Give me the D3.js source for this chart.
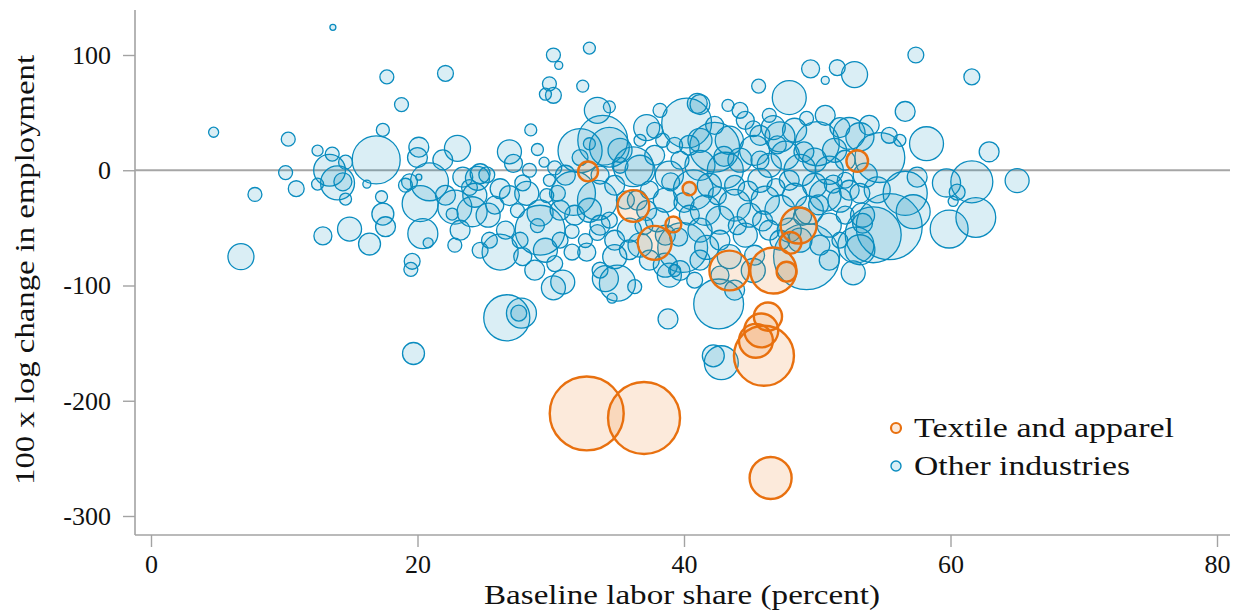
<!DOCTYPE html>
<html>
<head>
<meta charset="utf-8">
<script src="https://cdn.jsdelivr.net/npm/d3@7"></script>
<style>
  html, body { margin: 0; padding: 0; background: #fff; }
  svg { display: block; }
  svg text { font-family: "Liberation Serif", "Times New Roman", Times, serif !important; fill: #111; }
</style>
</head>
<body>
<svg id="chart" width="1240" height="614"></svg>
<script>
// Industry bubbles: [baseline labor share (%), 100 x log change in employment, employment weight]
const textileIndustries = [
  [32.8, -1, 11], [36.2, -31, 28], [37.8, -63, 32], [39.2, -47, 7], [40.4, -16, 5],
  [32.7, -211, 152], [37.0, -215, 144], [43.4, -87, 44], [46.7, -87, 59], [47.7, -88, 11],
  [48.6, -48, 36], [48.0, -63, 13], [53.0, 8, 13], [46.3, -127, 22], [45.8, -139, 32],
  [45.4, -148, 32], [46.0, -161, 100], [46.5, -267, 49]
];

const otherIndustries = [
  [13.65, 124, 1], [17.7, 81, 5.4], [18.8, 57, 5.4], [4.7, 33, 2.8], [10.3, 27, 5.4],
  [17.4, 35, 4.7], [12.5, 17, 3.4], [13.6, 14, 5.4], [14.6, 7, 5.4], [16.9, 9, 64],
  [13.4, 0, 28], [14.0, -11, 32], [14.4, -10, 9], [10.1, -2, 5.4], [10.9, -16, 7],
  [12.5, -12, 4], [16.2, -12, 1.8], [17.3, -23, 4], [19.1, -13, 5.4], [7.8, -21, 5.4],
  [20.1, 20, 11], [20.0, 11, 11], [20.1, -6, 1], [20.2, -29, 36], [14.6, -25, 4],
  [17.4, -38, 13.4], [17.6, -49, 11], [14.9, -51, 16], [12.9, -57, 9], [16.4, -64, 13.4],
  [6.75, -75, 18.8], [19.6, -79, 7], [19.5, -86, 5.4], [19.7, -159, 13.4], [20.4, -55, 25],
  [20.8, -63, 2.8], [20.9, -10, 40], [21.9, 9, 11], [22.1, 84, 7], [23.0, 19, 18.8],
  [23.4, -6, 11], [24.7, -3, 11], [25.2, -4, 7], [23.9, -15, 7], [19.4, -10, 7],
  [22.8, -32, 32], [24.1, -36, 25], [25.3, -39, 16], [22.6, -38, 4], [24.5, -7, 16],
  [26.2, -16, 11], [26.2, -71, 36], [27.9, -75, 9], [29.2, -52, 69], [29.2, -37, 18.8],
  [29.0, -48, 5.4], [28.2, -20, 16], [27.9, -11, 7], [26.9, -22, 11], [27.5, -35, 5.4],
  [29.7, -22, 5.4], [30.5, -20, 7], [31.7, -20, 54], [33.5, -26, 44], [31.6, -53, 5.4],
  [33.5, -54, 7], [32.6, -61, 5.4], [31.6, -71, 7], [32.7, -71, 9], [30.3, -81, 7],
  [30.9, -97, 16], [30.2, -102, 16], [34.1, -94, 18.8], [35.0, -98, 36], [36.3, -101, 5.4],
  [34.6, -111, 2.8], [34.8, -75, 16], [35.9, -69, 11], [38.9, -91, 16], [39.3, -87, 4],
  [38.8, -129, 11], [26.7, -128, 59], [27.8, -124, 25], [27.6, -124, 7], [37.2, -35, 11],
  [36.5, -26, 11], [38.0, -43, 16], [40.7, -17, 44], [39.9, -67, 69], [30.2, 100, 5.4],
  [30.6, 91, 1.8], [32.9, 106, 4], [29.9, 75, 5.4], [29.6, 66, 4], [30.2, 65, 7],
  [32.4, 73, 4], [33.5, 52, 18.8], [34.4, 55, 4], [28.5, 35, 4], [29.0, 18, 4],
  [29.5, 7, 2.8], [30.3, 2, 5.4], [26.9, 16, 16], [27.2, 6, 9], [32.2, 17, 54],
  [33.9, 26, 69], [34.4, 20, 44], [32.2, 11, 7], [32.9, 23, 4], [37.2, 37, 18.8],
  [38.4, 26, 5.4], [40.2, 41, 69], [41.0, 58, 11], [36.2, 3, 44], [45.6, 73, 5.4],
  [47.9, 63, 32], [49.5, 88, 9], [51.5, 89, 7], [50.6, 78, 1.8], [52.8, 83, 18.8],
  [57.4, 100, 7], [61.6, 81, 7], [56.6, 51, 11], [58.2, 23, 32], [62.9, 16, 11],
  [49.2, 45, 5.4], [41.2, 57, 11], [42.3, 20, 69], [45.2, 36, 7], [46.7, 37, 16],
  [47.2, 29, 25], [50.0, 23, 54], [51.7, 37, 11], [52.4, 32, 28], [53.2, 29, 22],
  [54.7, 11, 69], [57.5, -6, 11], [59.7, -11, 22], [61.6, -10, 49], [65.0, -9, 16],
  [60.5, -19, 7], [60.2, -27, 2.8], [61.9, -41, 44], [59.9, -51, 40], [57.2, -36, 32],
  [56.6, -20, 54], [55.4, -49, 121], [53.4, -46, 11], [54.5, -17, 18.8], [53.2, -69, 25],
  [52.7, -89, 16], [53.2, -20, 11], [54.2, -56, 87], [52.9, -65, 36], [53.4, -39, 16],
  [42.6, -116, 69], [42.8, -167, 32], [42.2, -161, 13.4], [49.2, -75, 121], [39.7, -87, 11],
  [45.2, -87, 16], [43.4, -75, 16], [41.7, -67, 16], [47.9, -52, 16],
  [35.2, 17.3, 16], [36.7, 0, 25], [37.8, 13, 11], [38.9, -4.3, 22], [34.8, -13, 11],
  [37.4, -17.3, 9], [38.6, -26, 16], [39.7, 8.7, 9], [41.2, 4.3, 25], [41.9, -13, 16],
  [43.1, 0, 36], [44.2, 8.7, 16], [45.3, 17.3, 25], [46.4, 4.3, 16], [47.6, 13, 22],
  [48.7, 0, 28], [49.8, 8.7, 16], [50.9, 0, 22], [52.1, 8.7, 11], [41.6, -34.7, 25],
  [42.7, -43.3, 22], [43.8, -30.3, 28], [44.9, -39, 16], [46.1, -26, 22], [47.2, -34.7, 25],
  [48.3, -21.7, 16], [49.4, -34.7, 22], [50.6, -21.7, 28], [51.7, -26, 16], [42.7, -60.7, 11],
  [44.6, -56.3, 16], [46.4, -52, 11], [50.9, -47.7, 16], [52.1, -39, 9], [41.2, -52, 16],
  [40.4, -39, 11], [43.8, -13, 11], [45.7, -8.7, 16], [47.9, -8.7, 11], [49.8, -13, 16],
  [51.3, 17.3, 16], [45.7, 30.3, 11], [43.4, 26, 22], [41.2, 26, 16], [35.6, -26, 9],
  [34.4, -43.3, 7], [35.9, -52, 16], [38.6, -56.3, 11], [40.4, 21.7, 11], [44.6, 43.3, 9],
  [48.3, 34.7, 16], [45.7, 8.7, 9], [47.2, -60.7, 11], [48.7, -60.7, 16], [50.2, -65, 11],
  [45.3, -73.7, 11], [41.2, -78, 11], [42.7, -91, 9], [43.8, -104, 11], [40.8, -95.4, 7],
  [50.9, -78, 11], [51.7, -60.7, 7], [52.4, -17.3, 11], [53.6, -4.3, 16], [52.1, -8.7, 7],
  [33.7, -4.3, 9], [35.2, 4.3, 7], [39.3, 21.7, 7], [37.8, 34.7, 7], [42.3, 39, 9],
  [43.3, 56.3, 4], [44.2, 52, 7], [46.4, 47.7, 5.4], [50.6, 47.7, 11], [53.9, 39, 11],
  [55.4, 30.3, 7], [56.2, 26, 4], [36.7, 26, 4], [38.2, 52, 5.4],
  [22.1, -21.7, 11], [23.2, -52, 11], [24.3, -21.7, 16], [25.8, -30.3, 9], [26.6, -52, 9],
  [27.7, -60.7, 7], [25.4, -60.7, 7], [28.4, 0, 5.4], [24.7, -69.4, 7], [22.8, -65, 5.4],
  [30.7, -34.7, 11], [31.1, -4.3, 11], [29.9, -8.7, 4], [33.7, -47.7, 11], [32.9, -34.7, 16],
  [31.8, -39, 11], [29.6, -69.4, 16], [28.8, -86.7, 11], [30.7, -60.7, 7], [34.8, -60.7, 11],
  [36.7, -65, 16], [37.4, -78, 11], [38.6, -82.4, 16], [33.7, -86.7, 7],
  [39.0, -10, 9], [40.0, -28, 11], [42.5, -22, 9], [44.8, -18, 11], [46.9, -15, 9],
  [48.9, -40, 9], [50.1, -30, 11], [51.2, -12, 9], [44.0, -48, 9], [45.9, -44, 11],
  [39.6, -58, 9], [37.0, -48, 9], [43.0, 12, 11], [47.0, 22, 9], [49.0, 16, 11]
];

const xTicks = [0, 20, 40, 60, 80];
const yTicks = [-300, -200, -100, 0, 100];
const legendLabels = ["Textile and apparel", "Other industries"];

const svg = d3.select("#chart");

const x = d3.scaleLinear().domain([0, 80]).range([151, 1217]);
const y = d3.scaleLinear().domain([-300, 100]).range([516, 55]);
const r = d3.scaleSqrt().domain([0, 100]).range([0, 30]);

const axisGrey = "#a3a3a3";
const blue = "#0a8cbf";
const orange = "#e8700f";
const plainNumber = d => String(d);

// Axis frame lines (extend slightly past the tick range)
const frameLeft = 135, frameBottom = 535, frameTop = 10, frameRight = 1230;
svg.append("line")
  .attr("x1", frameLeft).attr("x2", frameLeft)
  .attr("y1", frameTop).attr("y2", frameBottom)
  .attr("stroke", axisGrey).attr("stroke-width", 1.6);
svg.append("line")
  .attr("x1", frameLeft).attr("x2", frameRight)
  .attr("y1", frameBottom).attr("y2", frameBottom)
  .attr("stroke", axisGrey).attr("stroke-width", 1.6);

// Y axis
const yAxis = svg.append("g")
  .attr("transform", `translate(${frameLeft},0)`)
  .call(d3.axisLeft(y).tickValues(yTicks).tickFormat(plainNumber)
    .tickSize(12).tickPadding(12).tickSizeOuter(0));
yAxis.attr("font-family", null);
yAxis.select(".domain").remove();
yAxis.selectAll(".tick line").attr("stroke", axisGrey).attr("stroke-width", 1.4);
yAxis.selectAll(".tick text").style("font-size", "26px");

// X axis
const xAxis = svg.append("g")
  .attr("transform", `translate(0,${frameBottom})`)
  .call(d3.axisBottom(x).tickValues(xTicks).tickFormat(plainNumber)
    .tickSize(12).tickPadding(8).tickSizeOuter(0));
xAxis.attr("font-family", null);
xAxis.select(".domain").remove();
xAxis.selectAll(".tick line").attr("stroke", axisGrey).attr("stroke-width", 1.4);
xAxis.selectAll(".tick text").style("font-size", "26px");

// Zero reference line
svg.append("line")
  .attr("x1", frameLeft).attr("x2", frameRight)
  .attr("y1", y(0)).attr("y2", y(0))
  .attr("stroke", "#a6a6a6").attr("stroke-width", 2);

// Axis titles
svg.append("text")
  .attr("x", 682).attr("y", 604)
  .attr("text-anchor", "middle")
  .attr("textLength", 396).attr("lengthAdjust", "spacingAndGlyphs")
  .style("font-size", "27px")
  .text("Baseline labor share (percent)");

svg.append("text")
  .attr("transform", "translate(34,270) rotate(-90)")
  .attr("text-anchor", "middle")
  .attr("textLength", 430).attr("lengthAdjust", "spacingAndGlyphs")
  .style("font-size", "27px")
  .text("100 x log change in employment");

// Bubbles
const plot = svg.append("g");
plot.selectAll("circle.other")
  .data(otherIndustries)
  .join("circle")
  .attr("class", "other")
  .attr("cx", d => x(d[0]))
  .attr("cy", d => y(d[1]))
  .attr("r", d => r(d[2]))
  .attr("fill", blue).attr("fill-opacity", 0.15)
  .attr("stroke", blue).attr("stroke-width", 1.3);

plot.selectAll("circle.textile")
  .data(textileIndustries)
  .join("circle")
  .attr("class", "textile")
  .attr("cx", d => x(d[0]))
  .attr("cy", d => y(d[1]))
  .attr("r", d => r(d[2]))
  .attr("fill", orange).attr("fill-opacity", 0.15)
  .attr("stroke", orange).attr("stroke-width", 2.4);

// Legend
const legend = svg.append("g").attr("transform", "translate(896,428)");
const legendColors = [orange, blue];
const legendWidths = [260, 216];
legendLabels.forEach((label, i) => {
  const g = legend.append("g").attr("transform", `translate(0,${i * 38})`);
  g.append("circle").attr("r", 5)
    .attr("fill", legendColors[i]).attr("fill-opacity", 0.15)
    .attr("stroke", legendColors[i]).attr("stroke-width", i === 0 ? 2.2 : 1.4);
  g.append("text").attr("x", 18).attr("y", 9)
    .attr("textLength", legendWidths[i]).attr("lengthAdjust", "spacingAndGlyphs")
    .style("font-size", "27px").text(label);
});
</script>
</body>
</html>
